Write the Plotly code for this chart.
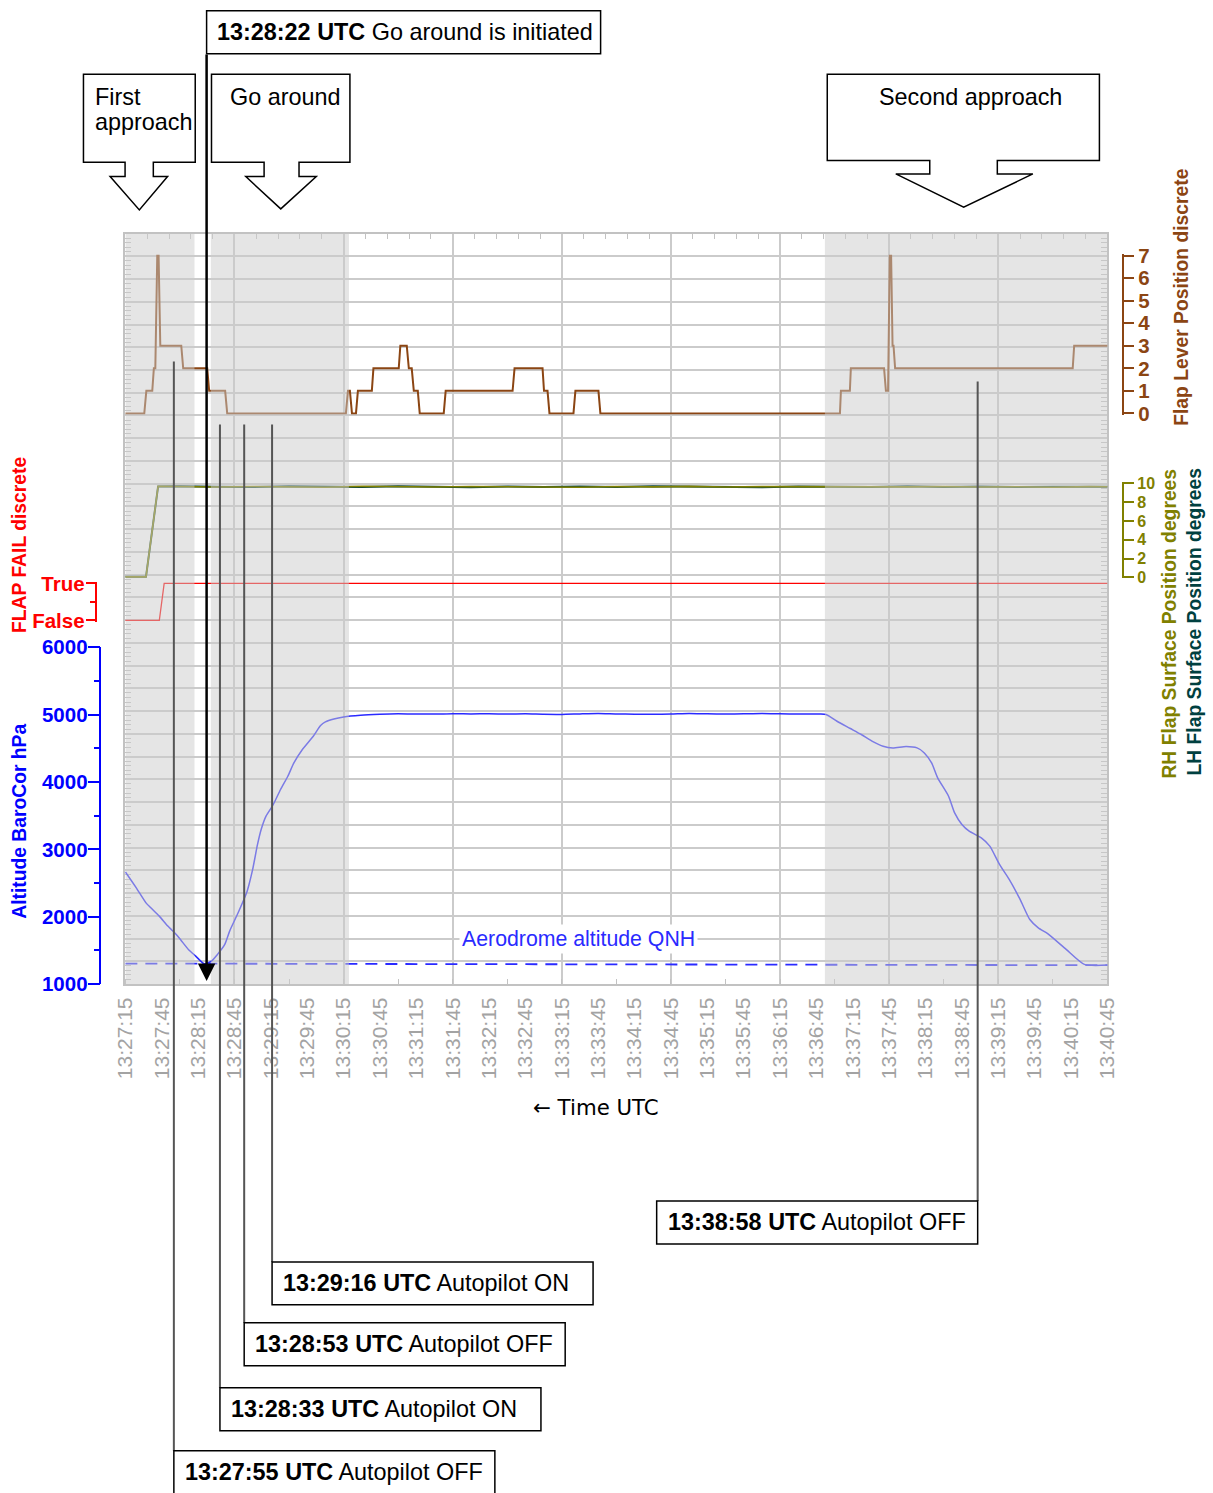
import plotly.graph_objects as go

FONT = "Liberation Sans, Arial, sans-serif"

# ---------------- data ----------------
x_ticks = ["13:27:15", "13:27:45", "13:28:15", "13:28:45", "13:29:15", "13:29:45",
           "13:30:15", "13:30:45", "13:31:15", "13:31:45", "13:32:15", "13:32:45",
           "13:33:15", "13:33:45", "13:34:15", "13:34:45", "13:35:15", "13:35:45",
           "13:36:15", "13:36:45", "13:37:15", "13:37:45", "13:38:15", "13:38:45",
           "13:39:15", "13:39:45", "13:40:15", "13:40:45"]

alt_time = ["13:27:15", "13:27:24", "13:27:32", "13:27:36", "13:27:43", "13:27:50", "13:27:57",
            "13:28:01", "13:28:07", "13:28:13", "13:28:20", "13:28:26", "13:28:31", "13:28:37",
            "13:28:41", "13:28:48", "13:28:55", "13:28:57", "13:29:00", "13:29:04", "13:29:07",
            "13:29:11", "13:29:17", "13:29:23", "13:29:29", "13:29:34", "13:29:41", "13:29:50",
            "13:29:56", "13:30:00", "13:30:07", "13:30:15", "13:30:29", "13:30:45", "13:31:00",
            "13:31:15", "13:31:30", "13:31:45", "13:32:00", "13:32:15", "13:32:30", "13:32:45",
            "13:33:00", "13:33:15", "13:33:30", "13:33:45", "13:34:00", "13:34:15", "13:34:30",
            "13:34:45", "13:35:00", "13:35:15", "13:35:30", "13:35:45", "13:36:00", "13:36:15",
            "13:36:30", "13:36:48", "13:36:53", "13:37:02", "13:37:13", "13:37:22", "13:37:32",
            "13:37:40", "13:37:48", "13:37:59", "13:38:08", "13:38:14", "13:38:20", "13:38:25",
            "13:38:34", "13:38:39", "13:38:45", "13:38:51", "13:39:01", "13:39:08", "13:39:16",
            "13:39:24", "13:39:33", "13:39:41", "13:39:48", "13:39:56", "13:40:11", "13:40:26",
            "13:40:45"]
alt_ft = [2665, 2429, 2206, 2132, 2009, 1861, 1737,
          1648, 1514, 1415, 1301, 1341, 1441, 1589,
          1786, 2058, 2355, 2479, 2702, 3073, 3295,
          3493, 3666, 3889, 4086, 4283, 4482, 4680,
          4838, 4892, 4936, 4966, 4991, 5005, 5012,
          5010, 5008, 5014, 5011, 5013, 5009, 5012,
          5006, 5004, 5011, 5016, 5010, 5007, 5005,
          5009, 5018, 5012, 5008, 5012, 5016, 5013,
          5008, 5010, 5002, 4902, 4794, 4705, 4596,
          4531, 4506, 4527, 4506, 4432, 4283, 4061,
          3789, 3542, 3370, 3270, 3171, 3048, 2776,
          2554, 2257, 1958, 1835, 1746, 1515, 1292,
          1282]

qnh_time = ["13:27:15", "13:40:45"]
qnh_ft = [1305, 1280]

lever_time = ["13:27:15", "13:27:30.6", "13:27:32.3", "13:27:37.2", "13:27:38.5", "13:27:39.7",
              "13:27:41.3", "13:27:42.4", "13:27:43.8", "13:28:01.1", "13:28:02.7", "13:28:22.5",
              "13:28:24.1", "13:28:37.3", "13:28:39.0", "13:30:16.9", "13:30:18.6", "13:30:20.2",
              "13:30:21.9", "13:30:25.2", "13:30:26.8", "13:30:38.3", "13:30:39.6", "13:31:00.5",
              "13:31:01.8", "13:31:07.1", "13:31:08.8", "13:31:11.2", "13:31:12.9", "13:31:16.2",
              "13:31:17.8", "13:31:37.6", "13:31:39.2", "13:32:34.4", "13:32:36.0", "13:32:59.1",
              "13:33:00.3", "13:33:03.2", "13:33:04.8", "13:33:24.6", "13:33:26.2", "13:33:45.2",
              "13:33:46.8", "13:37:04.4", "13:37:05.2", "13:37:12.6", "13:37:13.4", "13:37:40.8",
              "13:37:42.3", "13:37:44.1", "13:37:45.5", "13:37:46.6", "13:37:47.8", "13:37:48.6",
              "13:37:49.9", "13:40:16.4", "13:40:17.6", "13:40:45"]
lever_pos = [0, 0, 1, 1, 2, 2,
             7, 7, 3, 3, 2, 2,
             1, 1, 0, 0, 1, 1,
             0, 0, 1, 1, 2, 2,
             3, 3, 2, 2, 1, 1,
             0, 0, 1, 1, 2, 2,
             1, 1, 0, 0, 1, 1,
             0, 0, 1, 1, 2, 2,
             1, 1, 7, 7, 3, 3,
             2, 2, 3, 3]

surf_time = ["13:27:15", "13:27:32", "13:27:42", "13:28:00", "13:28:30", "13:29:00", "13:29:30",
             "13:30:00", "13:30:30", "13:31:00", "13:31:30", "13:32:00", "13:32:30", "13:33:00",
             "13:33:30", "13:34:00", "13:34:30", "13:35:00", "13:35:30", "13:36:00", "13:36:30",
             "13:37:00", "13:37:30", "13:38:00", "13:38:30", "13:39:00", "13:39:30", "13:40:00",
             "13:40:30", "13:40:45"]
rh_surf = [0.05, 0.05, 9.70, 9.66, 9.62, 9.68, 9.64, 9.60, 9.70, 9.66, 9.62, 9.68, 9.64, 9.66,
           9.60, 9.67, 9.63, 9.69, 9.62, 9.66, 9.64, 9.61, 9.67, 9.63, 9.68, 9.62, 9.65, 9.60,
           9.66, 9.64]
lh_surf = [0.05, 0.05, 9.68, 9.70, 9.64, 9.62, 9.69, 9.65, 9.61, 9.70, 9.66, 9.60, 9.68, 9.63,
           9.67, 9.62, 9.69, 9.64, 9.66, 9.60, 9.68, 9.65, 9.62, 9.69, 9.63, 9.67, 9.61, 9.66,
           9.63, 9.65]

fail_time = ["13:27:15", "13:27:43", "13:27:47", "13:40:45"]
fail_state = [0, 0, 1, 1]

shade_start = ["13:27:15", "13:28:25.5", "13:36:52"]
shade_end = ["13:28:12", "13:30:19.4", "13:40:45"]

event_time = ["13:27:55", "13:28:33", "13:28:53", "13:29:16", "13:38:58"]
event_text = ["Autopilot OFF", "Autopilot ON", "Autopilot OFF", "Autopilot ON", "Autopilot OFF"]
go_around_time = "13:28:22"
go_around_text = "Go around is initiated"

# ---------------- layout geometry ----------------
FW, FH = 1225, 1510                # figure size
SX, SY, OX, OY = 0.9832, 0.9854, 10.4, 10.3   # paper -> picture mapping observed in the viewer

def t(s):
    h, m, sec = s.split(":")
    return int(h) * 3600 + int(m) * 60 + float(sec)

def fx(x):
    return (x - OX) / SX

def fy(y):
    return (y - OY) / SY

def PX(x):
    return fx(x) / FW

def PY(y):
    return 1 - fy(y) / FH

def dom(px_bottom, px_top):
    return [PY(px_bottom), PY(px_top)]

BLUE = "#0000ff"
ALT_LINE = "#2a2aff"
RED = "#ff0000"
OLIVE = "#808000"
TEAL = "#004040"
BROWN = "#8b4513"
GRID = "#cbcbcb"
FRAME = "#c2c2c2"
TICKGRAY = "#a3a3a3"

t0, t1 = t(x_ticks[0]), t(x_ticks[-1])

fig = go.Figure()

# invisible anchors for grid subplots
fig.add_trace(go.Scatter(x=[t0], y=[0], xaxis="x", yaxis="y", mode="markers",
                         marker=dict(size=1, opacity=0), hoverinfo="skip"))
fig.add_trace(go.Scatter(x=[t0], y=[0], xaxis="x2", yaxis="y", mode="markers",
                         marker=dict(size=1, opacity=0), hoverinfo="skip"))

fig.add_trace(go.Scatter(x=[t(s) for s in surf_time], y=lh_surf, xaxis="x", yaxis="y4",
                         mode="lines", line=dict(color=TEAL, width=2)))
fig.add_trace(go.Scatter(x=[t(s) for s in surf_time], y=rh_surf, xaxis="x", yaxis="y4",
                         mode="lines", line=dict(color=OLIVE, width=1.6)))
fig.add_trace(go.Scatter(x=[t(s) for s in fail_time], y=fail_state, xaxis="x", yaxis="y3",
                         mode="lines", line=dict(color=RED, width=1.3)))
fig.add_trace(go.Scatter(x=[t(s) for s in lever_time], y=lever_pos, xaxis="x", yaxis="y5",
                         mode="lines", line=dict(color=BROWN, width=2)))
fig.add_trace(go.Scatter(x=[t(s) for s in qnh_time], y=qnh_ft, xaxis="x", yaxis="y2",
                         mode="lines", line=dict(color=ALT_LINE, width=1.8, dash="12px,8px")))
fig.add_trace(go.Scatter(x=[t(s) for s in alt_time], y=alt_ft, xaxis="x", yaxis="y2",
                         mode="lines", line=dict(color=ALT_LINE, width=1.5, shape="spline",
                                                 smoothing=0.6)))

shapes = []
# shaded phases (semi-transparent overlay above the traces)
for a, b in zip(shade_start, shade_end):
    shapes.append(dict(type="rect", xref="x", yref="y", x0=t(a), x1=t(b), y0=0, y1=33,
                       layer="above", fillcolor="rgba(204,204,204,0.5)", line=dict(width=0)))

# event lines and label boxes
line_tops = [360, 423, 423, 423, 380]
box_tops = [1450, 1387, 1322, 1261, 1200]
box_w = 321
for i, (et, txt) in enumerate(zip(event_time, event_text)):
    top, btop = line_tops[i], box_tops[i]
    shapes.append(dict(type="line", xref="x", yref="paper", x0=t(et), x1=t(et),
                       y0=PY(top), y1=PY(btop), line=dict(color="#555555", width=2), layer="above"))
    right = (i == len(event_time) - 1)
    shapes.append(dict(type="rect", xref="x", xsizemode="pixel", xanchor=t(et),
                       x0=-box_w if right else 0, x1=0 if right else box_w,
                       yref="paper", y0=PY(btop + 43 if i else btop + 60), y1=PY(btop),
                       line=dict(color="black", width=1.5), fillcolor="white", layer="above"))

# go-around box
shapes.append(dict(type="rect", xref="x", xsizemode="pixel", xanchor=t(go_around_time),
                   x0=0, x1=394, yref="paper", y0=PY(52), y1=PY(9),
                   line=dict(color="black", width=1.5), fillcolor="white", layer="above"))

# block-arrow callouts (outlines given in picture pixels)
def callout(l, r, top, bot, sl, sr, sb, wl, wr, tipx, tipy):
    pts = [(l, top), (r, top), (r, bot), (sr, bot), (sr, sb), (wr, sb), (tipx, tipy),
           (wl, sb), (sl, sb), (sl, bot), (l, bot)]
    p = "M " + " L ".join(f"{PX(x):.5f},{PY(y):.5f}" for x, y in pts) + " Z"
    return dict(type="path", xref="paper", yref="paper", path=p,
                line=dict(color="black", width=1.5), fillcolor="white", layer="above")

shapes.append(callout(82, 194, 72.7, 160.7, 123.7, 152, 175, 108.7, 166.3, 138, 208.3))
shapes.append(callout(210.3, 349, 72.7, 160.7, 263, 298, 175, 244.7, 315.3, 279.7, 207.3))
shapes.append(callout(827.3, 1100, 72.7, 159, 930, 997.7, 172.3, 896, 1033.3, 964, 205.7))

ann = []
TXT = dict(family=FONT, size=23.4, color="black")
for i, (et, txt) in enumerate(zip(event_time, event_text)):
    btop = box_tops[i]
    right = (i == len(event_time) - 1)
    ann.append(dict(x=t(et), xref="x", y=PY(btop + 21), yref="paper",
                    xanchor="left", yanchor="middle", xshift=(-box_w + 9) if right else 9,
                    text=f"<b>{et} UTC</b> {txt}", showarrow=False, font=TXT))
ann.append(dict(x=t(go_around_time), xref="x", y=PY(30), yref="paper", xanchor="left",
                yanchor="middle", xshift=8,
                text=f"<b>{go_around_time} UTC</b> {go_around_text}",
                showarrow=False, font=TXT))
# go-around arrow
ann.append(dict(x=t(go_around_time), xref="x", y=PY(980), yref="paper", ax=0,
                ay=-(980 - 52), axref="pixel", ayref="pixel", showarrow=True,
                arrowhead=2, arrowsize=1.4, arrowwidth=2.5, arrowcolor="black", text="",
                standoff=0))
# callout texts
for txt, x, y in [("First", 92, 95), ("approach", 92, 120), ("Go around", 227, 95),
                  ("Second approach", 877, 95)]:
    ann.append(dict(x=PX(x), y=PY(y), xref="paper", yref="paper", xanchor="left",
                    yanchor="middle", text=txt, showarrow=False, font=TXT))
# QNH label
ann.append(dict(x=t("13:33:29"), xref="x", y=1668, yref="y2", text="Aerodrome altitude QNH",
                showarrow=False, bgcolor="white", borderpad=2,
                font=dict(family=FONT, size=21.3, color=ALT_LINE)))
# x title
ann.append(dict(x=PX(596), y=PY(1107), xref="paper", yref="paper", xanchor="center",
                yanchor="middle", text="\u2190 Time UTC", showarrow=False,
                font=dict(family="DejaVu Sans, " + FONT, size=21.3, color="black")))
# axis titles
TB = dict(family=FONT, size=19.3)
def vtitle(x, y, text, color):
    return dict(x=PX(x), y=PY(y), xref="paper", yref="paper", xanchor="center",
                yanchor="middle", text=f"<b>{text}</b>", textangle=-90, showarrow=False,
                font=dict(TB, color=color))
ann.append(vtitle(18, 820, "Altitude BaroCor hPa", BLUE))
ann.append(vtitle(18, 544, "FLAP FAIL discrete", RED))
ann.append(vtitle(1182, 296, "Flap Lever Position discrete", BROWN))
ann.append(vtitle(1170, 622, "RH Flap Surface Position degrees", OLIVE))
ann.append(vtitle(1195, 620, "LH Flap Surface Position degrees", TEAL))

TICKB = dict(family=FONT, size=20.5, weight="bold")

fig.update_layout(
    width=FW, height=FH,
    margin=dict(l=0, r=0, t=0, b=0, pad=0),
    paper_bgcolor="white", plot_bgcolor="rgba(0,0,0,0)",
    showlegend=False, hovermode=False,
    font=dict(family=FONT, size=16, color="black"),
    xaxis=dict(domain=[PX(124), PX(1108)], range=[t0, t1], anchor="y",
               tickmode="array", tickvals=[t(s) for s in x_ticks], ticktext=x_ticks,
               tickangle=-90, tickfont=dict(family=FONT, size=21, color=TICKGRAY),
               ticks="", ticklabelstandoff=3, showgrid=False, zeroline=False,
               showline=True, linecolor=FRAME, linewidth=2, mirror=True,
               minor=dict(tickmode="array", tickvals=[t0 + 45 * k for k in range(19)],
                          ticks="inside", ticklen=5, tickcolor=FRAME, tickwidth=1,
                          showgrid=False)),
    xaxis2=dict(overlaying="x", anchor="y", side="top", range=[t0, t1],
                tickmode="linear", tick0=t0, dtick=90, showgrid=True, gridcolor=GRID,
                gridwidth=2, showticklabels=False, ticks="", zeroline=False, showline=False,
                minor=dict(tick0=t0, dtick=18, ticks="inside", ticklen=5, tickcolor=FRAME,
                           tickwidth=1, showgrid=False)),
    yaxis=dict(domain=dom(983, 232), range=[0, 33], anchor="x", tickmode="linear", tick0=0,
               dtick=1, showgrid=True, gridcolor=GRID, gridwidth=2, showticklabels=False,
               ticks="", zeroline=False, showline=True, linecolor=FRAME, linewidth=2,
               mirror="allticks",
               minor=dict(tick0=0, dtick=0.2, ticks="inside", ticklen=6, tickcolor=FRAME,
                          tickwidth=1, showgrid=False)),
    yaxis2=dict(domain=dom(983, 646), range=[1000, 6000], anchor="free", position=PX(99),
                side="left", tickmode="linear", tick0=1000, dtick=1000, ticks="outside",
                ticklen=12, tickwidth=1.5, tickcolor=BLUE, showline=True, linecolor=BLUE,
                linewidth=1.5, showgrid=False, zeroline=False, ticklabelstandoff=-4,
                tickfont=dict(TICKB, color=BLUE),
                minor=dict(dtick=500, ticks="outside", ticklen=6, tickcolor=BLUE, tickwidth=1.5,
                           showgrid=False)),
    yaxis3=dict(domain=dom(620.5, 580.5), range=[-0.04, 1.04], anchor="free", position=PX(95),
                side="left", tickmode="array", tickvals=[0, 1], ticktext=["False", "True"],
                ticks="outside", ticklen=10, tickwidth=1.5, tickcolor=RED, showline=True,
                linecolor=RED, linewidth=1.5, showgrid=False, zeroline=False,
                ticklabelstandoff=-3, tickfont=dict(TICKB, color=RED),
                minor=dict(tickmode="array", tickvals=[0.5], ticks="outside", ticklen=6,
                           tickcolor=RED, tickwidth=1.5, showgrid=False)),
    yaxis4=dict(domain=dom(576.9, 481.1), range=[-0.1, 10.1], anchor="free", position=PX(1124),
                side="right", tickmode="linear", tick0=0, dtick=2, ticks="outside", ticklen=10,
                tickwidth=1.5, tickcolor=OLIVE, showline=True, linecolor=OLIVE, linewidth=1.5,
                showgrid=False, zeroline=False,
                tickfont=dict(family=FONT, size=16, color=OLIVE, weight="bold")),
    yaxis5=dict(domain=dom(413.1, 252.9), range=[-0.05, 7.05], anchor="free", position=PX(1124),
                side="right", tickmode="linear", tick0=0, dtick=1, ticks="outside", ticklen=10,
                tickwidth=1.5, tickcolor=BROWN, showline=True, linecolor=BROWN, linewidth=1.5,
                showgrid=False, zeroline=False, tickfont=dict(TICKB, color=BROWN)),
    shapes=shapes,
    annotations=ann,
)

fig.write_html("out.html", config={"displayModeBar": False})
